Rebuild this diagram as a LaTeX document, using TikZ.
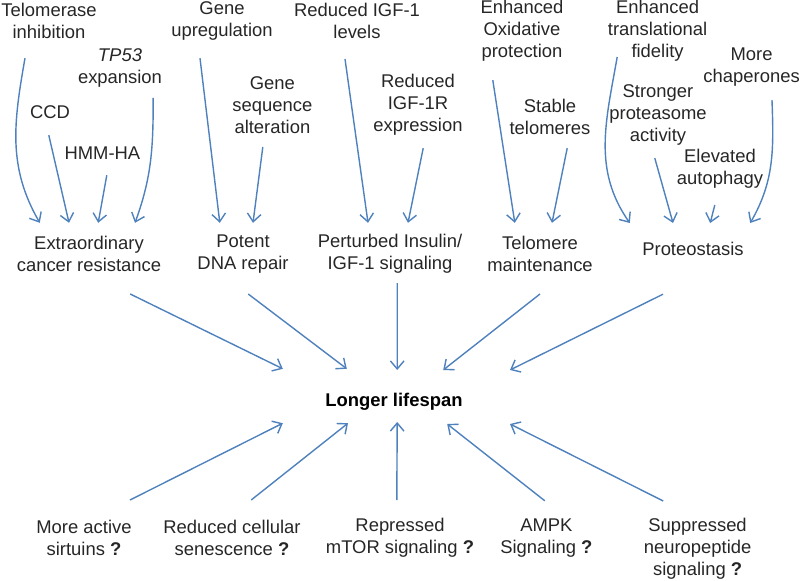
\documentclass[tikz,border=0pt]{standalone}
\usepackage{fontspec}
\setmainfont{Liberation Sans}
\usepackage{tikz}
\usetikzlibrary{arrows.meta}
\definecolor{linkblue}{RGB}{79,129,189}

\begin{document}
\begin{tikzpicture}[
            label/.style={align=center, font=\fontsize{13.1}{15.6}\selectfont, text=black!85},
            link/.style={linkblue, line width=1pt, ->},
            >={Straight Barb[length=2mm,width=3.4mm]}]

        \useasboundingbox (0,0) rectangle (20,-14.525);

        % causes, top row
        \node[label] (telinh)  at (1.225,-0.525) {Telomerase\\inhibition};
        \node[label] (tp53)    at (3.0,-1.7)     {\textit{TP53}\\expansion};
        \node[label] (ccd)     at (1.25,-2.8)    {CCD};
        \node[label] (hmm)     at (2.56,-3.83)   {HMM-HA};
        \node[label] (geneup)  at (5.55,-0.525)  {Gene\\upregulation};
        \node[label] (geneseq) at (6.81,-2.625)  {Gene\\sequence\\alteration};
        \node[label] (igflev)  at (8.925,-0.525) {Reduced IGF-1\\levels};
        \node[label] (igfr)    at (10.45,-2.625) {Reduced\\IGF-1R\\expression};
        \node[label] (oxid)    at (13.05,-0.775) {Enhanced\\Oxidative\\protection};
        \node[label] (stable)  at (13.75,-2.925) {Stable\\telomeres};
        \node[label] (transl)  at (16.44,-0.775) {Enhanced\\translational\\fidelity};
        \node[label] (chap)    at (18.79,-1.675) {More\\chaperones};
        \node[label] (prot)    at (16.45,-2.875) {Stronger\\proteasome\\activity};
        \node[label] (auto)    at (18.0,-4.225)  {Elevated\\autophagy};

        % mechanisms
        \node[label] (ecr)     at (2.225,-6.35)  {Extraordinary\\cancer resistance};
        \node[label] (dna)     at (6.075,-6.35)  {Potent\\DNA repair};
        \node[label] (insulin) at (9.75,-6.35)   {Perturbed Insulin/\\IGF-1 signaling};
        \node[label] (telmain) at (13.5,-6.35)   {Telomere\\maintenance};
        \node[label] (proteo)  at (17.325,-6.225) {Proteostasis};

        \node[label, font=\fontsize{13.1}{15.6}\selectfont\bfseries, text=black] (life) at (9.85,-10.05) {Longer lifespan};

        % open questions, bottom row
        \node[label] (sirt)  at (2.1,-13.45)    {More active\\sirtuins \textbf{?}};
        \node[label] (senes) at (5.8,-13.45)    {Reduced cellular\\senescence \textbf{?}};
        \node[label] (mtor)  at (10.0,-13.45)   {Repressed\\mTOR signaling \textbf{?}};
        \node[label] (ampk)  at (13.66,-13.45)  {AMPK\\Signaling \textbf{?}};
        \node[label] (neuro) at (17.44,-13.725) {Suppressed\\neuropeptide\\signaling \textbf{?}};

        \draw[link] ([shift={(-0.6,-0.93)}]telinh.center) to[out=-100,in=120] ([shift={(-1.23,0.78)}]ecr.center);
        \draw[link] ([shift={(-0.03,-0.58)}]ccd.center) -- ([shift={(-0.5,0.78)}]ecr.center);
        \draw[link] ([shift={(0.11,-0.55)}]hmm.center) -- ([shift={(0.23,0.78)}]ecr.center);
        \draw[link] ([shift={(0.83,-0.75)}]tp53.center) to[out=-90,in=70] ([shift={(1.15,0.78)}]ecr.center);

        \draw[link] ([shift={(-0.55,-0.93)}]geneup.center) -- ([shift={(-0.58,0.78)}]dna.center);
        \draw[link] ([shift={(-0.24,-1.05)}]geneseq.center) -- ([shift={(0.25,0.78)}]dna.center);

        \draw[link] ([shift={(-0.3,-0.95)}]igflev.center) -- ([shift={(-0.55,0.78)}]insulin.center);
        \draw[link] ([shift={(0.13,-1.08)}]igfr.center) -- ([shift={(0.45,0.78)}]insulin.center);

        \draw[link] ([shift={(-0.73,-1.23)}]oxid.center) -- ([shift={(-0.63,0.78)}]telmain.center);
        \draw[link] ([shift={(0.43,-0.78)}]stable.center) -- ([shift={(0.3,0.78)}]telmain.center);

        \draw[link] ([shift={(-1.01,-0.65)}]transl.center) to[out=-100,in=125] ([shift={(-1.58,0.65)}]proteo.center);
        \draw[link] ([shift={(-0.08,-1.08)}]prot.center) -- ([shift={(-0.5,0.65)}]proteo.center);
        \draw[link] ([shift={(-0.13,-0.9)}]auto.center) -- ([shift={(0.43,0.65)}]proteo.center);
        \draw[link] ([shift={(0.51,-0.83)}]chap.center) to[out=-88,in=60] ([shift={(1.43,0.65)}]proteo.center);

        % into longer lifespan
        \draw[link] ([shift={(1.03,-1.0)}]ecr.center) -- ([shift={(-2.78,0.83)}]life.center);
        \draw[link] ([shift={(0.13,-1.0)}]dna.center) -- ([shift={(-1.18,0.83)}]life.center);
        \draw[link] ([shift={(0.18,-0.73)}]insulin.center) -- ([shift={(0.08,0.8)}]life.center);
        \draw[link] ([shift={(0,-1.0)}]telmain.center) -- ([shift={(1.23,0.8)}]life.center);
        \draw[link] ([shift={(-0.75,-1.13)}]proteo.center) -- ([shift={(2.9,0.8)}]life.center);

        \draw[link] ([shift={(1.15,0.95)}]sirt.center) -- ([shift={(-2.78,-0.53)}]life.center);
        \draw[link] ([shift={(0.48,0.95)}]senes.center) -- ([shift={(-1.15,-0.53)}]life.center);
        \draw[link] ([shift={(-0.08,0.95)}]mtor.center) -- ([shift={(0.08,-0.5)}]life.center);
        \draw[link] ([shift={(-0.04,0.93)}]ampk.center) -- ([shift={(1.33,-0.55)}]life.center);
        \draw[link] ([shift={(-0.86,1.2)}]neuro.center) -- ([shift={(2.9,-0.55)}]life.center);
    \end{tikzpicture}
\end{document}
